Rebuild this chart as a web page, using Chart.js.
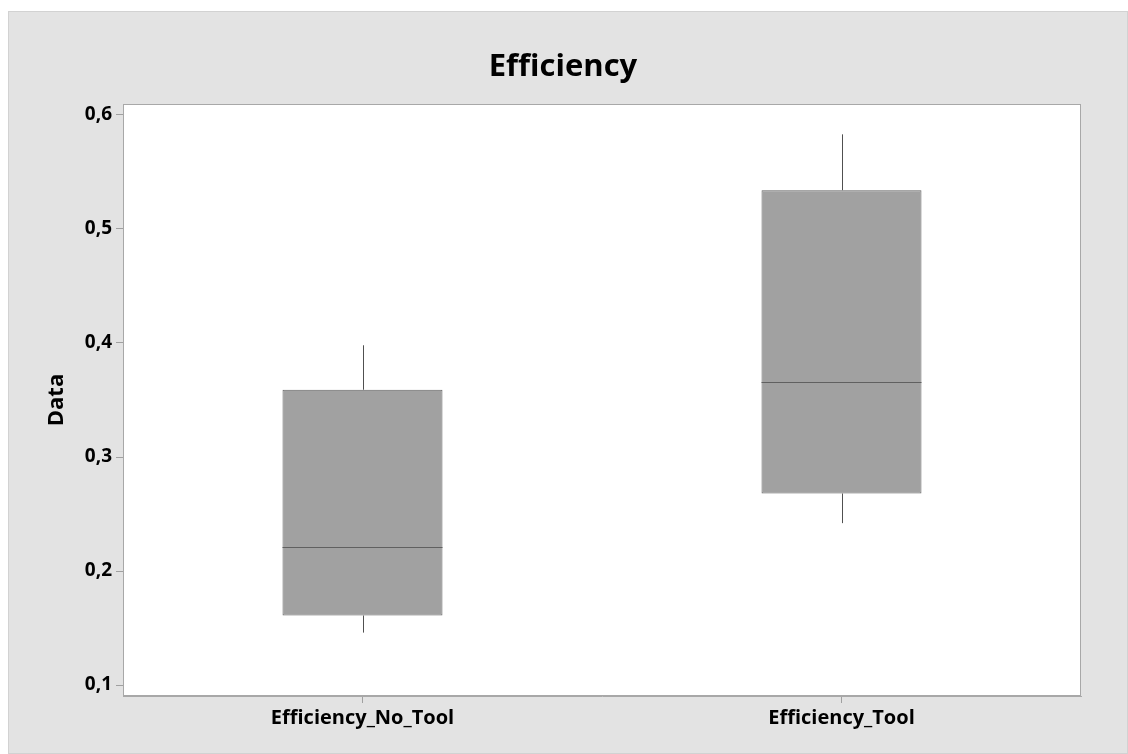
<!DOCTYPE html>
<html>
<head>
<meta charset="utf-8">
<script src="https://cdn.jsdelivr.net/npm/chart.js@4.4.1/dist/chart.umd.min.js"></script>
<style>
  html, body { margin: 0; padding: 0; background: #ffffff; }
  #wrap { width: 1128px; height: 754px; }
</style>
</head>
<body>
<div id="wrap"><canvas id="c" width="1128" height="754"></canvas></div>
<script>
const categories = ['Efficiency_No_Tool', 'Efficiency_Tool'];
const whiskerLow = [0.146, 0.242];
const q1 = [0.161, 0.268];
const median = [0.221, 0.366];
const q3 = [0.359, 0.534];
const whiskerHigh = [0.398, 0.583];
const yTicks = [0.1, 0.2, 0.3, 0.4, 0.5, 0.6];
const chartTitle = 'Efficiency';
const yTitle = 'Data';

const FONT = '"Open Sans", "Noto Sans", sans-serif';

const bgPlugin = {
  id: 'bg',
  beforeDraw(chart) {
    const ctx = chart.ctx;
    const a = chart.chartArea;
    ctx.save();
    ctx.fillStyle = '#ffffff';
    ctx.fillRect(0, 0, chart.width, chart.height);
    ctx.fillStyle = '#e3e3e3';
    ctx.fillRect(8, 11, chart.width - 8, chart.height - 11);
    ctx.strokeStyle = '#d2d2d2';
    ctx.lineWidth = 1;
    ctx.strokeRect(8.5, 11.5, chart.width - 9, chart.height - 12);
    ctx.fillStyle = '#ffffff';
    ctx.fillRect(a.left, a.top, a.right - a.left, a.bottom - a.top);
    ctx.fillStyle = '#000000';
    ctx.font = '700 31px ' + FONT;
    ctx.textAlign = 'center';
    ctx.textBaseline = 'middle';
    ctx.fillText(chartTitle, 563, 67);
    ctx.restore();
  },
  afterDraw(chart) {
    const ctx = chart.ctx;
    const a = chart.chartArea;
    ctx.save();
    ctx.strokeStyle = '#a8a8a8';
    ctx.lineWidth = 1;
    ctx.strokeRect(Math.round(a.left) + 0.5, Math.round(a.top) + 0.5,
                   Math.round(a.right - a.left) - 1, Math.round(a.bottom - a.top) - 1);
    ctx.restore();
  }
};

const boxPlugin = {
  id: 'boxparts',
  beforeDatasetsDraw(chart) {
    const ctx = chart.ctx;
    const xs = chart.scales.x, ys = chart.scales.y;
    ctx.save();
    ctx.strokeStyle = '#505050';
    ctx.lineWidth = 1;
    categories.forEach((c, i) => {
      const x = Math.round(xs.getPixelForValue(i)) + 0.5;
      ctx.beginPath();
      ctx.moveTo(x, ys.getPixelForValue(whiskerHigh[i]));
      ctx.lineTo(x, ys.getPixelForValue(q3[i]));
      ctx.moveTo(x, ys.getPixelForValue(q1[i]));
      ctx.lineTo(x, ys.getPixelForValue(whiskerLow[i]));
      ctx.stroke();
    });
    ctx.restore();
  },
  afterDatasetsDraw(chart) {
    const ctx = chart.ctx;
    const ys = chart.scales.y;
    const meta = chart.getDatasetMeta(0);
    ctx.save();
    ctx.strokeStyle = '#606060';
    ctx.lineWidth = 1;
    meta.data.forEach((bar, i) => {
      const half = bar.width / 2;
      const y = Math.round(ys.getPixelForValue(median[i])) + 0.5;
      ctx.beginPath();
      ctx.moveTo(bar.x - half, y);
      ctx.lineTo(bar.x + half, y);
      ctx.stroke();
    });
    ctx.restore();
  }
};

new Chart(document.getElementById('c'), {
  type: 'bar',
  data: {
    labels: categories,
    datasets: [{
      data: categories.map((c, i) => [q1[i], q3[i]]),
      backgroundColor: '#a1a1a1',
      borderColor: '#626262',
      borderWidth: 1,
      borderSkipped: false,
      categoryPercentage: 1,
      barPercentage: 0.334
    }]
  },
  plugins: [bgPlugin, boxPlugin],
  options: {
    responsive: false,
    animation: false,
    devicePixelRatio: 1,
    layout: { padding: { left: 0, right: 47, top: 104, bottom: 0 } },
    plugins: {
      legend: { display: false },
      tooltip: { enabled: false },
      title: { display: false }
    },
    scales: {
      x: {
        type: 'category',
        offset: true,
        afterFit(s) { s.height = 58; },
        grid: { display: true, drawOnChartArea: false, drawTicks: true, tickLength: 7, tickColor: '#a0a0a0', offset: false },
        border: { display: true, color: '#a8a8a8' },
        ticks: { color: '#000000', padding: 3, font: { family: FONT, size: 20, weight: '700' } }
      },
      y: {
        type: 'linear',
        min: 0.0904,
        max: 0.6096,
        afterFit(s) { s.width = 123; },
        afterBuildTicks(s) { s.ticks = yTicks.map(v => ({ value: v })); },
        grid: { display: true, drawOnChartArea: false, drawTicks: true, tickLength: 7, tickColor: '#a0a0a0' },
        border: { display: true, color: '#a8a8a8' },
        ticks: {
          color: '#000000',
          padding: 4,
          font: { family: FONT, size: 19, weight: '700' },
          callback: (v) => Number(v).toFixed(1).replace('.', ',')
        },
        title: {
          display: true,
          text: yTitle,
          color: '#000000',
          font: { family: FONT, size: 22, weight: '700' },
          padding: { top: 44, bottom: 0 }
        }
      }
    }
  }
});
</script>
</body>
</html>
